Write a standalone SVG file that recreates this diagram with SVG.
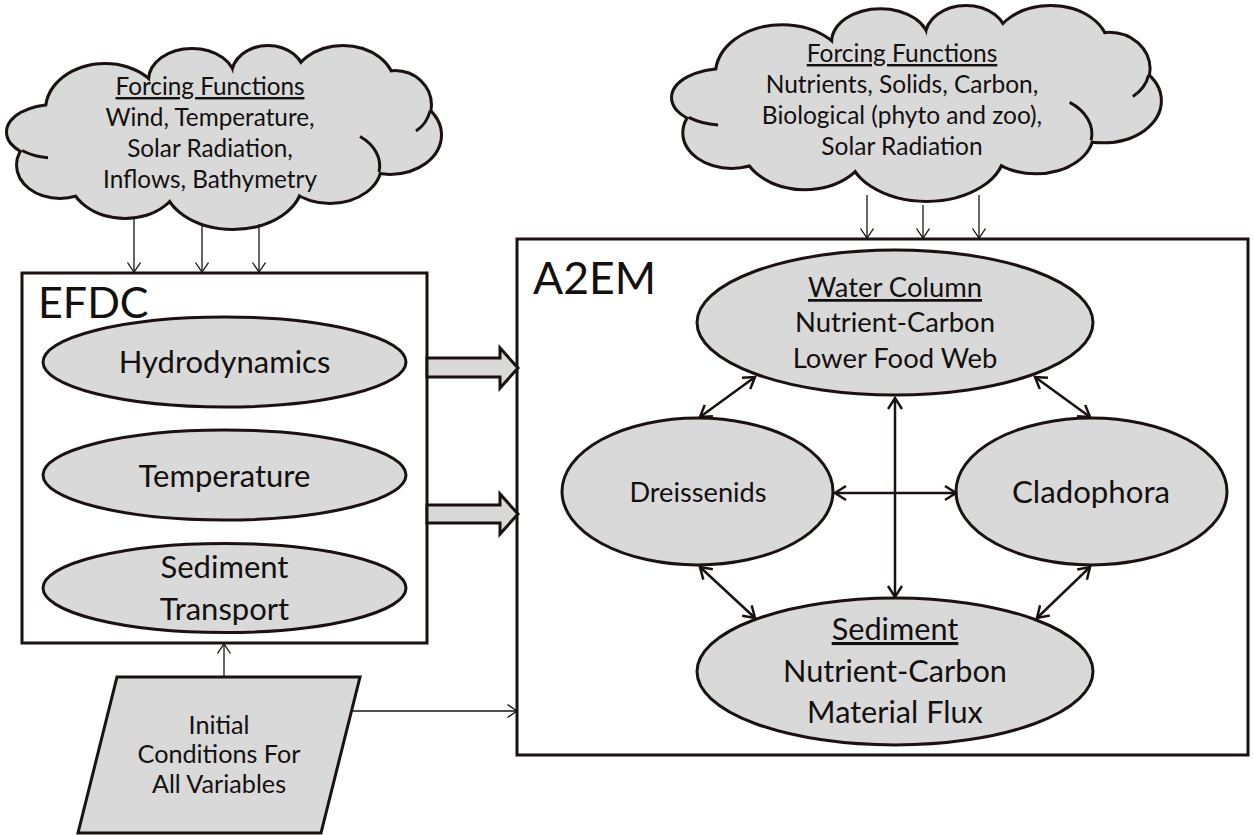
<svg xmlns="http://www.w3.org/2000/svg" xmlns:xlink="http://www.w3.org/1999/xlink" width="1254" height="835" viewBox="0 0 1254 835">
<style>
.ln{stroke:#1b1111;fill:none}
.shape{fill:#d9d9d9;stroke:#1b1111;stroke-width:3}
.box{fill:#ffffff;stroke:#1b1111;stroke-width:3}
.t{font-family:Lato,"Liberation Sans",sans-serif;fill:#141010;text-anchor:middle}
.u{text-decoration:underline}
.cs{fill:#d9d9d9;stroke:#1b1111;stroke-width:6;vector-effect:non-scaling-stroke}
.cf{fill:#d9d9d9;stroke:none}
.cr{fill:none;stroke:#1b1111;stroke-width:3;vector-effect:non-scaling-stroke}
</style>
<defs>
<marker id="vthin" markerUnits="userSpaceOnUse" markerWidth="14" markerHeight="16" refX="10" refY="7" orient="auto-start-reverse">
<path d="M0.5,0.5 L10,7 L0.5,13.5" fill="none" stroke="#1b1111" stroke-width="1.3"/>
</marker>
<marker id="vthick" markerUnits="userSpaceOnUse" markerWidth="16" markerHeight="20" refX="12" refY="8" orient="auto-start-reverse">
<path d="M1,1 L12,8 L1,15" fill="none" stroke="#1b1111" stroke-width="2.5"/>
</marker>
<g id="cloud">
<ellipse class="cs" cx="105" cy="110" rx="58" ry="45"/>
<ellipse class="cs" cx="192" cy="80" rx="42" ry="30"/>
<ellipse class="cs" cx="268" cy="75" rx="35" ry="28"/>
<ellipse class="cs" cx="343" cy="85" rx="50" ry="38"/>
<ellipse class="cs" cx="395" cy="105" rx="35" ry="33"/>
<ellipse class="cs" cx="390" cy="135" rx="50" ry="38"/>
<ellipse class="cs" cx="330" cy="165" rx="50" ry="37"/>
<ellipse class="cs" cx="233" cy="182" rx="68" ry="46"/>
<ellipse class="cs" cx="125" cy="175" rx="55" ry="42"/>
<ellipse class="cs" cx="60" cy="165" rx="42" ry="32"/>
<ellipse class="cs" cx="55" cy="132" rx="47" ry="26"/>
<ellipse class="cf" cx="105" cy="110" rx="58" ry="45"/>
<ellipse class="cf" cx="192" cy="80" rx="42" ry="30"/>
<ellipse class="cf" cx="268" cy="75" rx="35" ry="28"/>
<ellipse class="cf" cx="343" cy="85" rx="50" ry="38"/>
<ellipse class="cf" cx="395" cy="105" rx="35" ry="33"/>
<ellipse class="cf" cx="390" cy="135" rx="50" ry="38"/>
<ellipse class="cf" cx="330" cy="165" rx="50" ry="37"/>
<ellipse class="cf" cx="233" cy="182" rx="68" ry="46"/>
<ellipse class="cf" cx="125" cy="175" rx="55" ry="42"/>
<ellipse class="cf" cx="60" cy="165" rx="42" ry="32"/>
<ellipse class="cf" cx="55" cy="132" rx="47" ry="26"/>
<ellipse class="cf" cx="225" cy="138" rx="175" ry="60"/>
<path class="cr" d="M22,150.5 A47,26 0 0 0 48,157.7"/>
<path class="cr" d="M430,111 A35,33 0 0 1 416,131"/>
<path class="cr" d="M379,172 A50,37 0 0 0 360,136.5"/>
</g>
</defs>

<g id="cloud-efdc">
<use xlink:href="#cloud" href="#cloud"/>
<text class="t" font-size="24.3" x="210" y="95"><tspan class="u">Forcing Functions</tspan></text>
<text class="t" font-size="24.3" x="210" y="126">Wind, Temperature,</text>
<text class="t" font-size="24.3" x="210" y="157">Solar Radiation,</text>
<text class="t" font-size="24.3" x="210" y="188">Inflows, Bathymetry</text>
</g>

<g id="cloud-a2em">
<use xlink:href="#cloud" href="#cloud" transform="translate(664,-43.1) scale(1.127,1.066)"/>
<text class="t" font-size="24.5" x="902" y="62"><tspan class="u">Forcing Functions</tspan></text>
<text class="t" font-size="24.5" x="902" y="93">Nutrients, Solids, Carbon,</text>
<text class="t" font-size="24.5" x="902" y="124">Biological (phyto and zoo),</text>
<text class="t" font-size="24.5" x="902" y="155">Solar Radiation</text>
</g>

<g id="efdc">
<rect class="box" x="22" y="273" width="405" height="370"/>
<text class="t" font-size="43" x="38" y="318" style="text-anchor:start">EFDC</text>
</g>
<g id="hydrodynamics">
<ellipse class="shape" cx="224.5" cy="362" rx="181.5" ry="45"/>
<text class="t" font-size="31" x="224.5" y="373">Hydrodynamics</text>
</g>
<g id="temperature">
<ellipse class="shape" cx="224.5" cy="475" rx="181.5" ry="45"/>
<text class="t" font-size="31" x="224.5" y="487">Temperature</text>
</g>
<g id="sediment-transport">
<ellipse class="shape" cx="224.5" cy="588" rx="181.5" ry="44.5"/>
<text class="t" font-size="31" x="224.5" y="578">Sediment</text>
<text class="t" font-size="31" x="224.5" y="620">Transport</text>
</g>

<g id="a2em">
<rect class="box" x="517" y="239" width="731" height="516"/>
<text class="t" font-size="44.5" x="533" y="294" style="text-anchor:start">A2EM</text>
</g>
<g id="water-column">
<ellipse class="shape" cx="895" cy="322.5" rx="198" ry="72.5"/>
<text class="t" font-size="27.4" x="895" y="297"><tspan class="u">Water Column</tspan></text>
<text class="t" font-size="27.4" x="895" y="332">Nutrient-Carbon</text>
<text class="t" font-size="27.4" x="895" y="368">Lower Food Web</text>
</g>
<g id="dreissenids">
<ellipse class="shape" cx="697.5" cy="491.5" rx="135.5" ry="73.5"/>
<text class="t" font-size="27.2" x="698" y="502">Dreissenids</text>
</g>
<g id="cladophora">
<ellipse class="shape" cx="1091.5" cy="491.5" rx="135.5" ry="73.5"/>
<text class="t" font-size="31.2" x="1091" y="503">Cladophora</text>
</g>
<g id="sediment">
<ellipse class="shape" cx="895" cy="671.5" rx="198" ry="73.5"/>
<text class="t" font-size="30.7" x="895" y="640"><tspan class="u">Sediment</tspan></text>
<text class="t" font-size="30.7" x="895" y="682">Nutrient-Carbon</text>
<text class="t" font-size="30.7" x="895" y="723">Material Flux</text>
</g>

<g id="initial-conditions">
<path class="shape" d="M117,677 L360,677 L321,833 L78,833 Z"/>
<text class="t" font-size="25.2" x="219" y="734">Initial</text>
<text class="t" font-size="25.2" x="219" y="763">Conditions For</text>
<text class="t" font-size="25.2" x="219" y="793">All Variables</text>
</g>

<g id="connectors">
<path class="shape" d="M427,358 H500 V348 L518,368 L500,388 V377 H427 Z"/>
<path class="shape" d="M427,505 H500 V494 L518,514 L500,534 V523 H427 Z"/>
<g class="ln" stroke-width="1.3" marker-end="url(#vthin)">
<line x1="134" y1="217" x2="134" y2="272"/>
<line x1="202" y1="224" x2="202" y2="272"/>
<line x1="259" y1="224" x2="259" y2="272"/>
<line x1="867" y1="195" x2="867" y2="238"/>
<line x1="923" y1="205" x2="923" y2="238"/>
<line x1="979" y1="195" x2="979" y2="238"/>
<line x1="224" y1="677" x2="224" y2="644"/>
<line x1="352" y1="711" x2="517" y2="711"/>
</g>
<g class="ln" stroke-width="2.5" marker-start="url(#vthick)" marker-end="url(#vthick)">
<line x1="700" y1="417" x2="755" y2="377"/>
<line x1="1035" y1="377" x2="1090" y2="417"/>
<line x1="700" y1="567" x2="755" y2="618"/>
<line x1="1090" y1="567" x2="1037" y2="618"/>
<line x1="895" y1="398" x2="895" y2="597"/>
<line x1="835" y1="493" x2="956" y2="493"/>
</g>
</g>
</svg>
